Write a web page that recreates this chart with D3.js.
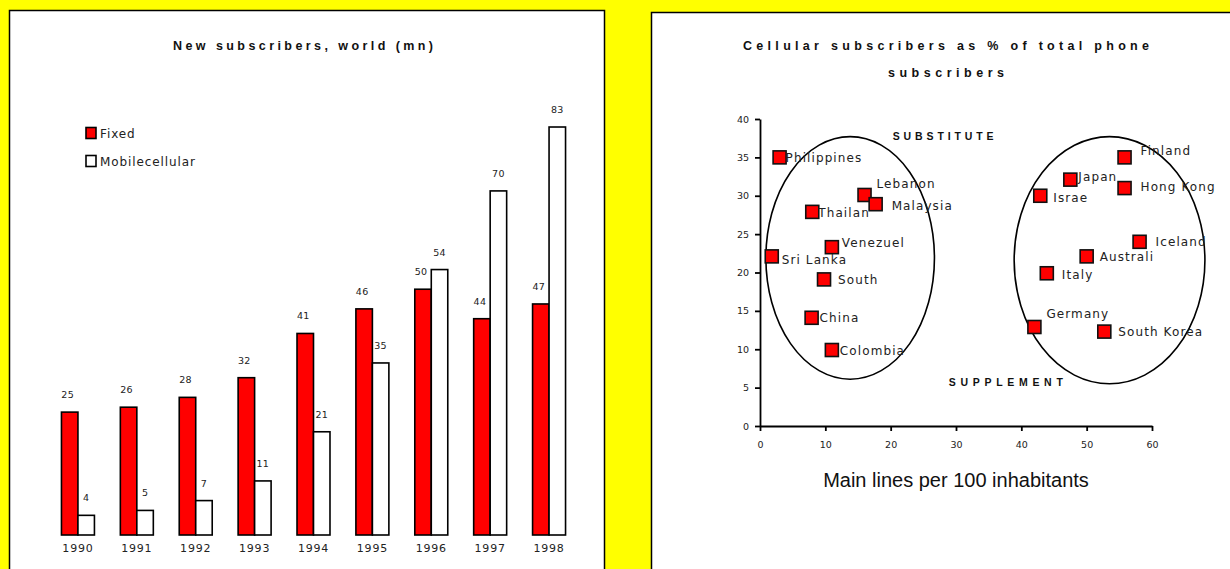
<!DOCTYPE html>
<html>
<head>
<meta charset="utf-8">
<script src="https://cdn.jsdelivr.net/npm/d3@7/dist/d3.min.js"></script>
<style>
  html, body { margin: 0; padding: 0; background: #ffff00; }
  svg { display: block; }
</style>
</head>
<body>
<svg id="chart" width="1230" height="569"></svg>
<script>
// ---------- DATA ----------
const years = ["1990", "1991", "1992", "1993", "1994", "1995", "1996", "1997", "1998"];
const fixedValues = [25, 26, 28, 32, 41, 46, 50, 44, 47];
const mobileValues = [4, 5, 7, 11, 21, 35, 54, 70, 83];
const seriesNames = ["Fixed", "Mobilecellular"];

const countries = ["Philippines", "Lebanon", "Malaysia", "Thailan", "Venezuel", "Sri Lanka", "South", "China", "Colombia",
                   "Finland", "Japan", "Hong Kong", "Israe", "Iceland", "Australi", "Italy", "Germany", "South Korea"];
const mainLines = [3, 16, 17.7, 8, 11, 1.8, 9.8, 7.9, 11, 55.8, 47.5, 55.8, 42.9, 58.1, 50, 43.9, 42, 52.7];
const cellularShare = [35, 30.1, 28.9, 27.9, 23.3, 22.1, 19.1, 14.1, 9.9, 35, 32.1, 31, 30, 24, 22.1, 19.9, 12.9, 12.3];
const xTicks = [0, 10, 20, 30, 40, 50, 60];
const yTicks = [0, 5, 10, 15, 20, 25, 30, 35, 40];
// cluster ellipses in data units: centre x, centre y, radius x, radius y
const clusterCx = [13.8, 53.5];
const clusterCy = [21.9, 21.6];
const clusterRx = [12.9, 14.6];
const clusterRy = [15.8, 16.1];

// ---------- LAYOUT (label placement in pixels) ----------
const labelDx = [6, 12, 16, 6, 10, 10, 14, 8, 8, 16, 8, 16, 13, 16, 13, 15, 12, 14];
const labelDy = [0, -11, 1, 1, -5, 3, 0, 0, 0, -7, -3, -2, 2, 0, 0, 1, -13, 0];

const svg = d3.select("#chart");
const titleFont = "Liberation Sans Narrow, Arial Narrow, Liberation Sans, Arial, sans-serif";

// panels
svg.append("rect").attr("x", 9.5).attr("y", 10.5).attr("width", 595).attr("height", 570)
  .attr("fill", "#fff").attr("stroke", "#000").attr("stroke-width", 1.5);
svg.append("rect").attr("x", 651.5).attr("y", 12.5).attr("width", 600).attr("height", 570)
  .attr("fill", "#fff").attr("stroke", "#000").attr("stroke-width", 1.5);

// ---------- LEFT: bar chart ----------
const x0 = d3.scaleBand().domain(years).range([48.5, 578.5]).paddingInner(0.44).paddingOuter(0.22);
const x1 = d3.scaleBand().domain(seriesNames).range([0, x0.bandwidth()]);
const yBar = d3.scaleLinear().domain([0, 90]).range([535, 92.6]);
const barColor = d3.scaleOrdinal().domain(seriesNames).range(["#ff0000", "#ffffff"]);

svg.append("text").attr("x", 173).attr("y", 49.5)
  .attr("font-family", titleFont).attr("font-weight", "bold")
  .attr("font-size", 12.5).attr("textLength", 260).attr("lengthAdjust", "spacing").attr("fill", "#111")
  .text("New subscribers, world (mn)");

const rows = years.map((yr, i) => ({ year: yr, values: [fixedValues[i], mobileValues[i]] }));
const groups = svg.append("g").selectAll("g").data(rows).join("g")
  .attr("transform", d => `translate(${x0(d.year)},0)`);

groups.selectAll("rect").data(d => d.values.map((v, j) => ({ name: seriesNames[j], v })))
  .join("rect")
  .attr("x", d => x1(d.name)).attr("width", x1.bandwidth())
  .attr("y", d => yBar(d.v)).attr("height", d => yBar(0) - yBar(d.v))
  .attr("fill", d => barColor(d.name)).attr("stroke", "#000").attr("stroke-width", 1.6);

groups.selectAll("text.val").data(d => d.values.map((v, j) => ({ name: seriesNames[j], v })))
  .join("text").attr("class", "val")
  .attr("x", d => x1(d.name) + x1.bandwidth() / 2 - (d.name === "Fixed" ? 2 : 0))
  .attr("y", d => yBar(d.v) - 14)
  .attr("text-anchor", "middle")
  .attr("font-family", "DejaVu Sans, sans-serif").attr("font-size", 9.5)
  .attr("letter-spacing", 0.3).attr("fill", "#222")
  .text(d => d.v);

svg.append("g").selectAll("text").data(years).join("text")
  .attr("x", d => x0(d) + x0.bandwidth() / 2)
  .attr("y", 552)
  .attr("text-anchor", "middle")
  .attr("font-family", "DejaVu Sans, sans-serif").attr("font-size", 11)
  .attr("letter-spacing", 0.8).attr("fill", "#222")
  .text(d => d);

// legend
const legend = svg.append("g").selectAll("g").data(seriesNames).join("g")
  .attr("transform", (d, i) => `translate(86,${127.5 + i * 28})`);
legend.append("rect").attr("width", 10).attr("height", 11)
  .attr("fill", d => barColor(d)).attr("stroke", "#000").attr("stroke-width", 1.6);
legend.append("text").attr("x", 14).attr("y", 10)
  .attr("font-family", "DejaVu Sans, sans-serif").attr("font-size", 12)
  .attr("letter-spacing", 0.9).attr("fill", "#222")
  .text(d => d);

// ---------- RIGHT: scatter ----------
const xs = d3.scaleLinear().domain([0, 60]).range([760, 1152]);
const ys = d3.scaleLinear().domain([0, 40]).range([426, 119]);

const titleLines = ["Cellular subscribers as % of total phone", "subscribers"];
const titleWidths = [406, 116];
svg.append("g").selectAll("text").data(titleLines).join("text")
  .attr("x", (d, i) => 946 - titleWidths[i] / 2).attr("y", (d, i) => 49.5 + i * 27)
  .attr("font-family", titleFont).attr("font-weight", "bold")
  .attr("font-size", 12.5).attr("textLength", (d, i) => titleWidths[i]).attr("lengthAdjust", "spacing")
  .attr("fill", "#111")
  .text(d => d);

const axisFont = g => g.selectAll("text")
  .attr("font-family", "DejaVu Sans, sans-serif").attr("font-size", 9.5).attr("fill", "#222");

svg.append("g").attr("transform", `translate(0,${ys(0)})`)
  .call(d3.axisBottom(xs).tickValues(xTicks).tickSize(5).tickSizeOuter(0).tickPadding(10))
  .call(g => g.selectAll("path,line").attr("stroke", "#000").attr("stroke-width", 1.8))
  .call(axisFont);
svg.append("g").attr("transform", `translate(${xs(0)},0)`)
  .call(d3.axisLeft(ys).tickValues(yTicks).tickSize(5).tickSizeOuter(0).tickPadding(6))
  .call(g => g.selectAll("path,line").attr("stroke", "#000").attr("stroke-width", 1.8))
  .call(axisFont);

// ellipses
const clusters = clusterCx.map((c, i) => ({ cx: c, cy: clusterCy[i], rx: clusterRx[i], ry: clusterRy[i] }));
svg.append("g").selectAll("ellipse").data(clusters).join("ellipse")
  .attr("cx", d => xs(d.cx)).attr("cy", d => ys(d.cy))
  .attr("rx", d => xs(d.cx + d.rx) - xs(d.cx)).attr("ry", d => ys(d.cy - d.ry) - ys(d.cy))
  .attr("fill", "none").attr("stroke", "#000").attr("stroke-width", 1.6);

// annotations
const notes = [{ t: "SUBSTITUTE", x: 20.3, y: 37.2, w: 101 }, { t: "SUPPLEMENT", x: 28.9, y: 5.2, w: 114 }];
svg.append("g").selectAll("text").data(notes).join("text")
  .attr("x", d => xs(d.x)).attr("y", d => ys(d.y))
  .attr("font-family", titleFont).attr("font-weight", "bold")
  .attr("font-size", 10.5).attr("textLength", d => d.w).attr("lengthAdjust", "spacing").attr("fill", "#111")
  .text(d => d.t);

// points
const pts = countries.map((c, i) => ({ name: c, x: mainLines[i], y: cellularShare[i], dx: labelDx[i], dy: labelDy[i] }));
svg.append("g").selectAll("rect").data(pts).join("rect")
  .attr("x", d => xs(d.x) - 6.5).attr("y", d => ys(d.y) - 6.5)
  .attr("width", 13).attr("height", 13)
  .attr("fill", "#ff0000").attr("stroke", "#111").attr("stroke-width", 1.6);
svg.append("g").selectAll("text").data(pts).join("text")
  .attr("x", d => xs(d.x) + d.dx).attr("y", d => ys(d.y) + d.dy + 4.5)
  .attr("font-family", "DejaVu Sans, sans-serif").attr("font-size", 12)
  .attr("letter-spacing", 1.1).attr("fill", "#222")
  .text(d => d.name);

svg.append("text").attr("x", 956).attr("y", 487).attr("text-anchor", "middle")
  .attr("font-family", "Liberation Sans, Arial, sans-serif").attr("font-size", 20)
  .attr("fill", "#111").text("Main lines per 100 inhabitants");
</script>
</body>
</html>
